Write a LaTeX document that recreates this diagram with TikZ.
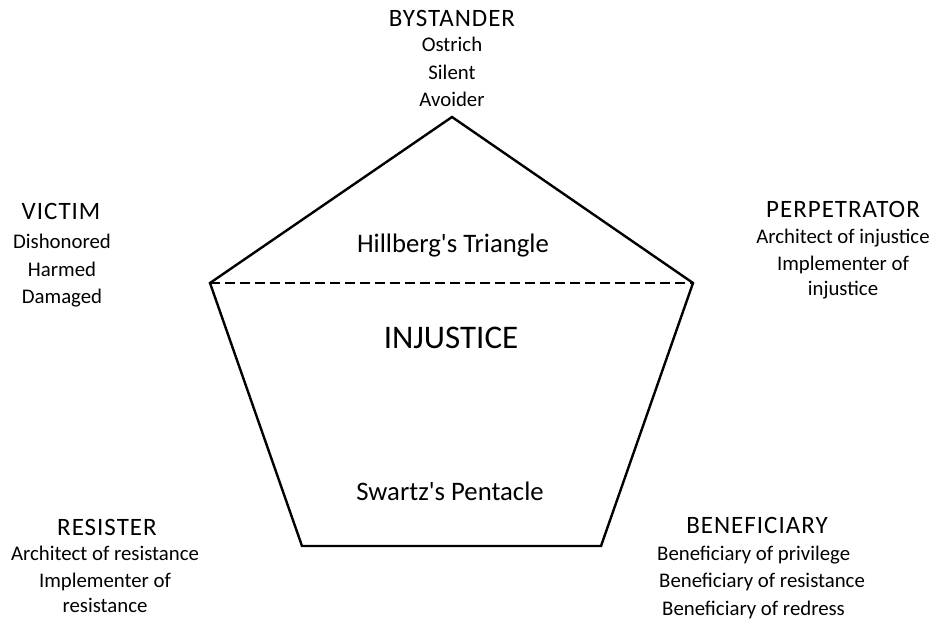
\documentclass[tikz,border=0pt]{standalone}
\usepackage{fontspec}
\setmainfont{Carlito}
\newfontfamily\headfont[LetterSpace=4]{Carlito}
\begin{document}
\begin{tikzpicture}[x=1pt,y=-1pt,
  head/.style={inner sep=0pt,anchor=base,font=\headfont\fontsize{25}{28}\selectfont},
  body/.style={inner sep=0pt,align=center,font=\fontsize{20.8}{27.5}\selectfont},
  inside/.style={inner sep=0pt,anchor=base,font=\fontsize{26.7}{30}\selectfont},
  edge/.style={line width=2.4pt,line join=miter},
  dashline/.style={line width=2.6pt,dash pattern=on 10pt off 5pt}]
\useasboundingbox (0,0) rectangle (931,620);
\coordinate (T) at (452,117);
\coordinate (L) at (210,283);
\coordinate (R) at (693,283);
\coordinate (BL) at (302,546);
\coordinate (BR) at (601,546);
\draw[edge] (L) -- (T) -- (R) -- (BR) -- (BL) -- cycle;
\draw[dashline] (L) -- (R);

\node[inside] (hill) at (453,253) {Hillberg\textquotesingle s Triangle};
\node[inside,font=\fontsize{33}{36}\selectfont] (inj) at (451,348) {INJUSTICE};
\node[inside] (swartz) at (450,500) {Swartz\textquotesingle s Pentacle};

\node[head] (bys) at (452,27) {BYSTANDER};
\node[body] (bysb) at (452,72) {Ostrich\\Silent\\Avoider};

\node[head] (vic) at (61,220) {VICTIM};
\node[body] (vicb) at (62,271) {Dishonored\\Harmed\\Damaged};

\node[head] (per) at (843,218) {PERPETRATOR};
\node[body] (perb) at (843,264) {Architect of injustice\\Implementer of\\[-3pt]injustice};

\node[head] (res) at (107,535) {RESISTER};
\node[body] (resb) at (105,579) {Architect of resistance\\Implementer of\\[-3pt]resistance};

\node[head] (ben) at (757,533) {BENEFICIARY};
\node[body,align=left,anchor=west] (benb) at (657,582) {Beneficiary of privilege\\\hspace*{2pt}Beneficiary of resistance\\\hspace*{5pt}Beneficiary of redress};
\end{tikzpicture}
\end{document}
